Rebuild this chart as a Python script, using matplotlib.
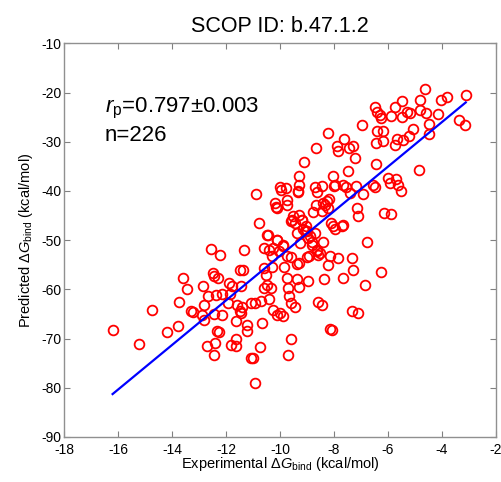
import numpy as np
import matplotlib
matplotlib.use('Agg')
import matplotlib.pyplot as plt

# --- Configuração ---
plt.rcParams['font.family'] = ['Liberation Sans', 'DejaVu Sans']
plt.rcParams['mathtext.fontset'] = 'custom'
plt.rcParams['mathtext.rm'] = 'Liberation Sans'
plt.rcParams['mathtext.it'] = 'Liberation Sans:italic'
plt.rcParams['axes.unicode_minus'] = False

titulo = 'SCOP ID: b.47.1.2'
rotuloX = r'Experimental $\Delta G_{\rm bind}$ (kcal/mol)'
rotuloY = r'Predicted $\Delta G_{\rm bind}$ (kcal/mol)'
textoR = r'$r_{\rm p}$=0.797±0.003'
textoN = 'n=226'

# --- Dados ---
experimental = [
    -16.20, -15.23, -14.75, -14.17, -13.79, -13.73, -13.60, -13.43, -13.30, -13.23,
    -12.84, -12.80, -12.88, -12.81, -12.72, -12.57, -12.22, -12.49, -12.43, -12.28,
    -12.68, -12.37, -12.44, -12.35, -12.26, -12.41, -12.43, -12.15, -12.14, -11.88,
    -11.78, -11.85, -11.91, -11.46, -11.81, -11.62, -11.64, -11.62, -11.60, -11.49,
    -11.44, -11.40, -11.48, -11.38, -11.33, -11.21, -11.21, -11.06, -10.93, -11.07,
    -11.01, -10.91, -10.74, -10.68, -10.89, -10.78, -10.72, -10.61, -10.58, -10.52,
    -10.58, -10.48, -10.43, -10.40, -10.35, -10.27, -10.15, -10.10, -10.00, -9.90,
    -10.00, -9.98, -10.10, -10.04, -10.40, -10.31, -9.90, -9.78, -9.75, -9.75,
    -9.85, -9.75, -9.75, -9.69, -9.65, -9.59, -9.44, -9.60, -9.69, -9.36,
    -9.31, -9.38, -9.31, -9.51, -9.60, -9.28, -9.38, -9.26, -9.33, -9.28,
    -9.31, -9.11, -9.19, -9.14, -9.04, -9.01, -8.99, -8.91, -8.95, -8.95,
    -8.83, -8.77, -8.70, -8.64, -8.67, -8.68, -8.70, -8.64, -8.62, -8.52,
    -8.44, -8.42, -8.33, -8.41, -8.37, -8.60, -8.46, -8.21, -8.15, -8.15,
    -8.09, -8.17, -8.21, -8.12, -8.02, -8.00, -8.05, -7.96, -7.90, -7.86,
    -7.84, -7.68, -7.68, -7.63, -7.56, -7.48, -7.46, -7.41, -7.35, -7.31,
    -7.35, -7.31, -7.23, -7.19, -7.16, -7.12, -7.10, -6.98, -6.92, -6.78,
    -6.86, -6.54, -6.47, -6.44, -6.44, -6.41, -6.47, -6.41, -6.31, -6.26,
    -6.19, -6.17, -6.26, -6.15, -5.89, -5.99, -5.93, -5.87, -5.74, -5.74,
    -5.65, -5.70, -5.62, -5.53, -5.49, -5.49, -5.43, -5.31, -5.21, -5.19,
    -5.09, -4.86, -4.81, -4.80, -4.62, -4.59, -4.49, -4.47, -4.16, -4.04,
    -3.83, -3.38, -3.15, -3.12,
    -9.32, -7.96, -7.66, -10.19, -10.12, -9.57, -9.20, -9.44, -8.46, -8.21,
    -8.27, -9.07, -8.89, -7.72, -10.49, -10.12, -9.88, -10.25, -8.80, -8.60,
    -9.60, -10.30,
]
previsto = [
    -68.3, -71.1, -64.1, -68.6, -67.5, -62.6, -57.6, -59.9, -64.4, -64.6,
    -59.4, -63.2, -65.3, -66.2, -71.5, -51.7, -53.1, -56.6, -57.3, -57.6,
    -61.4, -61.2, -65.1, -68.5, -68.6, -70.8, -73.4, -65.3, -61.0, -58.8,
    -59.3, -60.9, -62.7, -59.3, -71.4, -70.1, -71.5, -66.4, -63.2, -64.4,
    -64.9, -63.5, -56.0, -56.0, -52.0, -67.3, -68.4, -62.7, -62.8, -73.9,
    -74.0, -79.1, -71.8, -66.8, -40.6, -46.6, -62.4, -55.7, -51.6, -57.0,
    -59.8, -59.2, -48.9, -61.9, -59.7, -64.2, -43.2, -65.2, -64.9, -65.4,
    -39.1, -39.7, -49.9, -52.1, -51.9, -53.3, -51.1, -39.4, -41.8, -42.8,
    -55.4, -53.2, -57.6, -59.7, -61.4, -62.8, -63.5, -70.0, -73.4, -57.8,
    -59.5, -54.9, -54.6, -45.1, -46.0, -44.9, -48.6, -50.5, -40.3, -37.0,
    -38.7, -34.1, -45.9, -47.8, -47.1, -48.1, -53.5, -53.2, -58.3, -49.5,
    -50.4, -44.3, -39.1, -40.3, -42.8, -31.3, -48.6, -51.9, -52.2, -52.6,
    -38.9, -42.4, -42.8, -50.4, -57.8, -62.6, -63.2, -55.1, -53.2, -68.1,
    -68.3, -41.6, -28.2, -46.5, -37.0, -38.9, -47.2, -47.7, -30.9, -31.8,
    -53.6, -47.0, -57.6, -29.5, -39.1, -36.0, -31.3, -40.4, -53.6, -56.1,
    -64.4, -30.9, -33.2, -38.9, -43.4, -45.0, -64.9, -26.6, -40.7, -50.4,
    -59.2, -38.7, -39.2, -34.5, -30.3, -27.9, -23.0, -23.9, -24.6, -25.2,
    -29.9, -27.8, -56.4, -44.5, -44.6, -37.4, -38.4, -24.7, -23.0, -30.7,
    -29.5, -37.6, -38.7, -40.1, -21.7, -25.0, -29.7, -24.0, -28.9, -24.1,
    -27.4, -35.8, -21.5, -23.5, -19.3, -24.1, -28.4, -26.4, -24.3, -21.5,
    -20.9, -25.5, -26.6, -20.5,
    -40.1, -38.7, -38.7, -42.4, -43.4, -45.8, -45.8, -46.5, -44.1, -43.4,
    -42.1, -48.2, -49.2, -47.2, -48.9, -49.9, -50.9, -51.6, -51.0, -53.0,
    -53.5, -55.5,
]
ticksX = [-18, -16, -14, -12, -10, -8, -6, -4, -2]
ticksY = [-90, -80, -70, -60, -50, -40, -30, -20, -10]


def plotarDispersao(arquivo='out.png'):
    x = np.array(experimental)
    y = np.array(previsto)

    fig = plt.figure(figsize=(5.02, 4.82), dpi=100)
    ax = fig.add_axes([0.1275, 0.0934, 0.8605, 0.8166])

    ax.plot(x, y, 'o', mfc='none', mec='red', mew=1.3, ms=7.0)

    # reta de regressão
    coef = np.polyfit(x, y, 1)
    xr = np.array([x.min(), x.max()])
    ax.plot(xr, np.polyval(coef, xr), color='blue', lw=1.6)

    ax.set_xlim(-18, -2)
    ax.set_ylim(-90, -10)
    ax.set_xticks(ticksX)
    ax.set_yticks(ticksY)
    ax.tick_params(direction='in', top=True, right=True, length=4,
                   color='#808080', labelsize=10, pad=2)
    ax.tick_params(axis='x', pad=4)
    for s in ax.spines.values():
        s.set_color('#909090')
        s.set_linewidth(1.0)

    ax.set_xlabel(rotuloX, fontsize=10.5, labelpad=-1)
    ax.set_ylabel(rotuloY, fontsize=10.5, labelpad=4)
    ax.set_title(titulo, fontsize=15.5, pad=8)

    ax.text(-16.5, -24.1, textoR, fontsize=16)
    ax.text(-16.5, -29.8, textoN, fontsize=16)

    fig.savefig(arquivo, dpi=100)
    plt.close(fig)


if __name__ == '__main__':
    plotarDispersao()
